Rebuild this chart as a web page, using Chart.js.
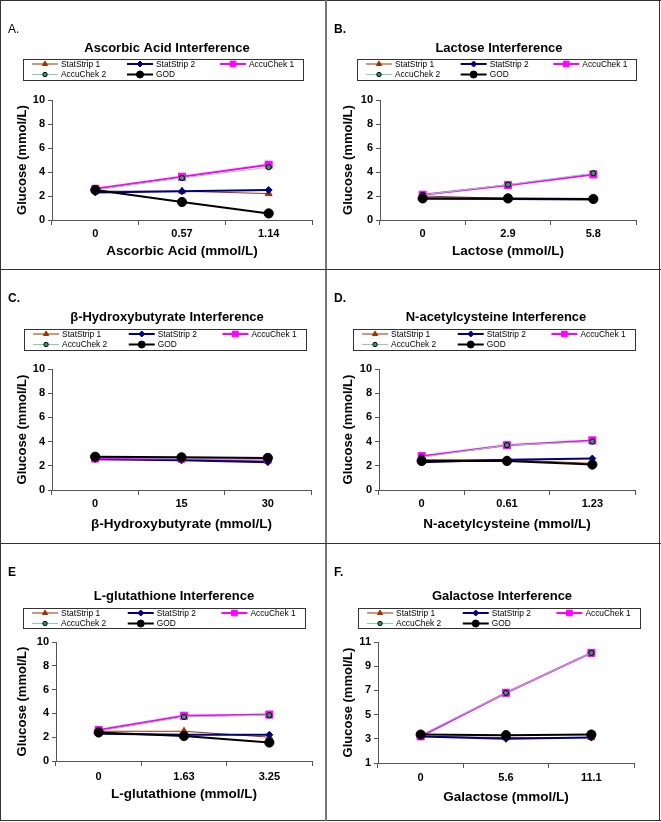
<!DOCTYPE html>
<html>
<head>
<meta charset="utf-8">
<script src="https://cdn.jsdelivr.net/npm/chart.js@4"></script>
<style>
  body { margin: 0; background: #fff; }
  #wrap { position: relative; width: 661px; height: 822px; background: #fff; }
  #wrap canvas { position: absolute; }
  .rule { position: absolute; background: #333; }
</style>
</head>
<body>
<div id="wrap">
  <canvas id="pA" width="325" height="269" style="left:1px;top:1px"></canvas>
  <canvas id="pB" width="332" height="269" style="left:327px;top:1px"></canvas>
  <canvas id="pC" width="325" height="273" style="left:1px;top:270px"></canvas>
  <canvas id="pD" width="332" height="273" style="left:327px;top:270px"></canvas>
  <canvas id="pE" width="325" height="276" style="left:1px;top:544px"></canvas>
  <canvas id="pF" width="332" height="276" style="left:327px;top:544px"></canvas>
  <div class="rule" style="left:0;top:0;width:661px;height:1px"></div>
  <div class="rule" style="left:0;top:820px;width:661px;height:1px"></div>
  <div class="rule" style="left:0;top:0;width:1px;height:821px"></div>
  <div class="rule" style="left:659px;top:0;width:1px;height:821px"></div>
  <div class="rule" style="left:325px;top:0;width:2px;height:821px;background:#777"></div>
  <div class="rule" style="left:0;top:269px;width:661px;height:1px"></div>
  <div class="rule" style="left:0;top:543px;width:661px;height:1px"></div>
</div>
<script>
const seriesNames = ['StatStrip 1', 'StatStrip 2', 'AccuChek 1', 'AccuChek 2', 'GOD'];

// A. ascorbic acid
const ascorbicDoses = ['0', '0.57', '1.14'];
const ascorbicStatStrip1 = [2.4, 2.4, 2.2];
const ascorbicStatStrip2 = [2.3, 2.4, 2.5];
const ascorbicAccuChek1 = [2.6, 3.6, 4.6];
const ascorbicAccuChek2 = [2.5, 3.5, 4.4];
const ascorbicGOD = [2.5, 1.5, 0.55];

// B. lactose
const lactoseDoses = ['0', '2.9', '5.8'];
const lactoseStatStrip1 = [2.0, 1.8, 1.7];
const lactoseStatStrip2 = [1.8, 1.75, 1.7];
const lactoseAccuChek1 = [2.1, 2.9, 3.8];
const lactoseAccuChek2 = [2.1, 2.95, 3.9];
const lactoseGOD = [1.8, 1.8, 1.75];

// C. beta-hydroxybutyrate
const hydroxyDoses = ['0', '15', '30'];
const hydroxyStatStrip1 = [2.6, 2.5, 2.4];
const hydroxyStatStrip2 = [2.55, 2.45, 2.3];
const hydroxyAccuChek1 = [2.6, 2.6, 2.6];
const hydroxyAccuChek2 = [2.7, 2.6, 2.6];
const hydroxyGOD = [2.75, 2.7, 2.65];

// D. N-acetylcysteine
const nacDoses = ['0', '0.61', '1.23'];
const nacStatStrip1 = [2.5, 2.5, 2.2];
const nacStatStrip2 = [2.3, 2.5, 2.6];
const nacAccuChek1 = [2.8, 3.7, 4.1];
const nacAccuChek2 = [2.7, 3.7, 4.0];
const nacGOD = [2.4, 2.4, 2.1];

// E. L-glutathione
const glutDoses = ['0', '1.63', '3.25'];
const glutStatStrip1 = [2.5, 2.5, 2.0];
const glutStatStrip2 = [2.3, 2.2, 2.2];
const glutAccuChek1 = [2.6, 3.8, 3.9];
const glutAccuChek2 = [2.5, 3.7, 3.85];
const glutGOD = [2.4, 2.1, 1.55];

// F. galactose
const galDoses = ['0', '5.6', '11.1'];
const galStatStrip1 = [3.2, 3.1, 3.1];
const galStatStrip2 = [3.2, 3.0, 3.1];
const galAccuChek1 = [3.2, 6.8, 10.1];
const galAccuChek2 = [3.3, 6.8, 10.1];
const galGOD = [3.35, 3.3, 3.35];

const FONT = '"Liberation Sans", Arial, sans-serif';

// line/marker look of each series, same order as seriesNames
const looks = [
  { color: '#993300', width: 1, style: 'triangle', r: 4, fill: '#993300', edge: '#993300', lr: 3 },
  { color: '#000080', width: 2, style: 'rectRot', r: 3.5, fill: '#000080', edge: '#000080', lr: 3 },
  { color: '#FF00FF', width: 2, style: 'rect', r: 5, fill: '#FF00FF', edge: '#FF00FF', lr: 4 },
  { color: '#80D4A8', width: 1, style: 'circle', r: 2.6, fill: '#339966', edge: '#000000', lr: 2.2 },
  { color: '#000000', width: 2, style: 'circle', r: 4.6, fill: '#000000', edge: '#000000', lr: 3.5 }
];

function marker(ctx, style, x, y, r) {
  ctx.beginPath();
  if (style === 'circle') {
    ctx.arc(x, y, r, 0, Math.PI * 2);
  } else if (style === 'rect') {
    const s = r * Math.SQRT1_2;
    ctx.rect(x - s, y - s, 2 * s, 2 * s);
  } else if (style === 'rectRot') {
    ctx.moveTo(x, y - r); ctx.lineTo(x + r, y); ctx.lineTo(x, y + r); ctx.lineTo(x - r, y);
    ctx.closePath();
  } else {
    ctx.moveTo(x, y - r); ctx.lineTo(x + r * 0.87, y + r * 0.5); ctx.lineTo(x - r * 0.87, y + r * 0.5);
    ctx.closePath();
  }
  ctx.fill();
  ctx.stroke();
}

// letter, title and boxed legend
const panelDecor = {
  id: 'panelDecor',
  afterDraw(chart, args, o) {
    const ctx = chart.ctx;
    ctx.save();
    ctx.fillStyle = '#000';
    ctx.textBaseline = 'middle';
    ctx.textAlign = 'left';
    ctx.font = (o.letterBold ? 'bold ' : '') + '12px ' + FONT;
    ctx.fillText(o.letter, 7, 29);
    ctx.textAlign = 'center';
    ctx.font = 'bold 13px ' + FONT;
    ctx.fillText(o.title, o.titleX, o.titleY);

    const [x1, y1, x2, y2] = o.box;
    ctx.strokeStyle = '#333';
    ctx.lineWidth = 1;
    ctx.strokeRect(x1 + 0.5, y1 + 0.5, x2 - x1, y2 - y1);
    const k = (x2 - x1) / 280;
    const cols = [9, 104, 197];
    ctx.font = '8.4px ' + FONT;
    ctx.textAlign = 'left';
    seriesNames.forEach((name, i) => {
      const lk = looks[i];
      const lx = x1 + cols[i % 3] * k;
      const ly = y1 + (i < 3 ? 5 : 15.5);
      ctx.strokeStyle = lk.color;
      ctx.lineWidth = lk.width;
      ctx.beginPath();
      ctx.moveTo(lx, ly); ctx.lineTo(lx + 26, ly);
      ctx.stroke();
      ctx.fillStyle = lk.fill;
      ctx.strokeStyle = lk.edge;
      ctx.lineWidth = 1;
      marker(ctx, lk.style, lx + 13, ly, lk.lr);
      ctx.fillStyle = '#000';
      ctx.fillText(name, lx + 29, ly + 0.5);
    });
    ctx.restore();
  }
};

const panels = [
  { id: 'pA', letter: 'A.', bold: false, title: 'Ascorbic Acid Interference', xTitle: 'Ascorbic Acid (mmol/L)',
    doses: ascorbicDoses, values: [ascorbicStatStrip1, ascorbicStatStrip2, ascorbicAccuChek1, ascorbicAccuChek2, ascorbicGOD],
    area: [51, 311, 99, 219], box: [22, 58, 302, 79], titleX: 166, titleY: 47, min: 0, max: 10, tickPad: 2, titlePad: 11 },
  { id: 'pB', letter: 'B.', bold: true, title: 'Lactose Interference', xTitle: 'Lactose (mmol/L)',
    doses: lactoseDoses, values: [lactoseStatStrip1, lactoseStatStrip2, lactoseAccuChek1, lactoseAccuChek2, lactoseGOD],
    area: [53, 309, 99, 219], box: [30, 58, 309, 79], titleX: 172, titleY: 47, min: 0, max: 10, tickPad: 2, titlePad: 11 },
  { id: 'pC', letter: 'C.', bold: true, title: 'β-Hydroxybutyrate Interference', xTitle: 'β-Hydroxybutyrate (mmol/L)',
    doses: hydroxyDoses, values: [hydroxyStatStrip1, hydroxyStatStrip2, hydroxyAccuChek1, hydroxyAccuChek2, hydroxyGOD],
    area: [51, 310, 99, 220], box: [23, 59, 305, 80], titleX: 166, titleY: 47, min: 0, max: 10, tickPad: 2, titlePad: 11 },
  { id: 'pD', letter: 'D.', bold: true, title: 'N-acetylcysteine Interference', xTitle: 'N-acetylcysteine (mmol/L)',
    doses: nacDoses, values: [nacStatStrip1, nacStatStrip2, nacAccuChek1, nacAccuChek2, nacGOD],
    area: [52, 308, 99, 220], box: [26, 59, 308, 80], titleX: 169, titleY: 47, min: 0, max: 10, tickPad: 2, titlePad: 11 },
  { id: 'pE', letter: 'E', bold: true, title: 'L-glutathione Interference', xTitle: 'L-glutathione (mmol/L)',
    doses: glutDoses, values: [glutStatStrip1, glutStatStrip2, glutAccuChek1, glutAccuChek2, glutGOD],
    area: [55, 311, 98, 217], box: [22, 64, 304, 84], titleX: 173, titleY: 52, min: 0, max: 10, tickPad: 4, titlePad: 18 },
  { id: 'pF', letter: 'F.', bold: true, title: 'Galactose Interference', xTitle: 'Galactose (mmol/L)',
    doses: galDoses, values: [galStatStrip1, galStatStrip2, galAccuChek1, galAccuChek2, galGOD],
    area: [51, 307, 98, 219], box: [31, 64, 313, 84], titleX: 175, titleY: 52, min: 1, max: 11, tickPad: 3.5, titlePad: 15 }
];

panels.forEach(p => {
  const canvas = document.getElementById(p.id);
  const [L, R, T, B] = p.area;
  new Chart(canvas.getContext('2d'), {
    type: 'line',
    data: {
      labels: p.doses,
      datasets: p.values.map((vals, i) => ({
        label: seriesNames[i],
        data: vals,
        borderColor: looks[i].color,
        borderWidth: looks[i].width,
        pointStyle: looks[i].style,
        pointRadius: looks[i].r,
        pointBackgroundColor: looks[i].fill,
        pointBorderColor: looks[i].edge,
        pointBorderWidth: 1,
        tension: 0,
        order: 5 - i
      }))
    },
    options: {
      responsive: false,
      devicePixelRatio: 1,
      animation: false,
      layout: { padding: { left: 0, top: T, right: canvas.width - R, bottom: 0 } },
      plugins: {
        legend: { display: false },
        tooltip: { enabled: false },
        panelDecor: { letter: p.letter, letterBold: p.bold, title: p.title, titleX: p.titleX, titleY: p.titleY, box: p.box }
      },
      scales: {
        x: {
          offset: true,
          grid: { offset: true, drawOnChartArea: false, tickLength: 5, color: '#555' },
          border: { color: '#555', width: 1 },
          ticks: { padding: p.tickPad, color: '#000', font: { family: FONT, size: 11, weight: 'bold' } },
          title: { display: true, text: p.xTitle, color: '#000', padding: { top: 0, bottom: p.titlePad },
                   font: { family: FONT, size: 13.5, weight: 'bold' } },
          afterFit(scale) { scale.height = canvas.height - B; }
        },
        y: {
          min: p.min, max: p.max,
          grid: { drawOnChartArea: false, tickLength: 4, color: '#555' },
          border: { color: '#555', width: 1 },
          ticks: { stepSize: 2, padding: 3, color: '#000', font: { family: FONT, size: 11, weight: 'bold' } },
          title: { display: true, text: 'Glucose (mmol/L)', color: '#000', padding: { top: 14, bottom: 0 },
                   font: { family: FONT, size: 13, weight: 'bold' } },
          afterFit(scale) { scale.width = L; }
        }
      }
    },
    plugins: [panelDecor]
  });
});
</script>
</body>
</html>
